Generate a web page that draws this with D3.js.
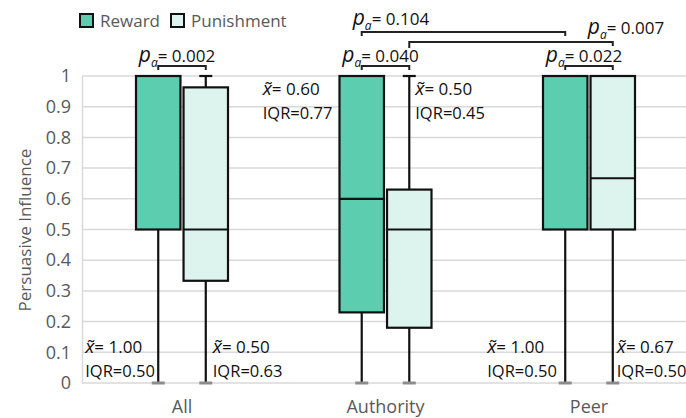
<!DOCTYPE html>
<html>
<head>
<meta charset="utf-8">
<script src="https://cdn.jsdelivr.net/npm/d3@7"></script>
<style>
  html, body { margin: 0; padding: 0; background: #fff; }
  svg { display: block; font-family: "Open Sans", "Noto Sans", sans-serif; }
</style>
</head>
<body>
<svg id="chart" width="686" height="418"></svg>
<script>
// ---- data ----
const categories = ["All", "Authority", "Peer"];
const series = ["Reward", "Punishment"];
const yTicks = [0, 0.1, 0.2, 0.3, 0.4, 0.5, 0.6, 0.7, 0.8, 0.9, 1];

const rewardMin    = [0, 0, 0];
const rewardQ1     = [0.5, 0.23, 0.5];
const rewardMedian = [1, 0.6, 1];
const rewardQ3     = [1, 1, 1];
const rewardMax    = [1, 1, 1];

const punishmentMin    = [0, 0, 0];
const punishmentQ1     = [0.333, 0.18, 0.5];
const punishmentMedian = [0.5, 0.5, 0.667];
const punishmentQ3     = [0.963, 0.63, 1];
const punishmentMax    = [1, 1, 1];

const rewardMedianLabels     = ["1.00", "0.60", "1.00"];
const rewardIqrLabels        = ["0.50", "0.77", "0.50"];
const punishmentMedianLabels = ["0.50", "0.50", "0.67"];
const punishmentIqrLabels    = ["0.63", "0.45", "0.50"];

const withinP = ["0.002", "0.040", "0.022"];            // Reward vs Punishment per category
const acrossPairs = [
  { from: "Authority", to: "Peer", series: "Reward", p: "0.104" },
  { from: "Authority", to: "Peer", series: "Punishment", p: "0.007" }
];

// ---- layout / style ----
const colors = { Reward: "#5ccdae", Punishment: "#ddf4ee" };
const textGray = "#595959";
const W = 686, H = 418;
const svg = d3.select("#chart");

const y = d3.scaleLinear().domain([0, 1]).range([383, 76]);
const x = d3.scaleBand().domain(categories).range([80.25, 690.75]);
const xs = d3.scaleBand().domain(series).range([-46, 46]).paddingInner(0.065);

const boxes = [];
categories.forEach((c, i) => {
  boxes.push({ cat: c, s: "Reward", i, min: rewardMin[i], q1: rewardQ1[i], med: rewardMedian[i], q3: rewardQ3[i], max: rewardMax[i], mLab: rewardMedianLabels[i], iLab: rewardIqrLabels[i] });
  boxes.push({ cat: c, s: "Punishment", i, min: punishmentMin[i], q1: punishmentQ1[i], med: punishmentMedian[i], q3: punishmentQ3[i], max: punishmentMax[i], mLab: punishmentMedianLabels[i], iLab: punishmentIqrLabels[i] });
});
const cx = d => x(d.cat) + x.bandwidth() / 2 + xs(d.s) + xs.bandwidth() / 2;
const bx = d => x(d.cat) + x.bandwidth() / 2 + xs(d.s);

// gridlines
svg.append("g").selectAll("line").data(yTicks).join("line")
  .attr("x1", 82).attr("x2", W).attr("y1", d => y(d)).attr("y2", d => y(d))
  .attr("stroke", "#d9d9d9").attr("stroke-width", 1.5);

// y axis
const yAxis = svg.append("g").attr("transform", "translate(82,0)")
  .call(d3.axisLeft(y).tickValues(yTicks).tickSize(0).tickPadding(11)
    .tickFormat(d => d === 0 ? "0" : d === 1 ? "1" : d.toFixed(1)));
yAxis.select(".domain").attr("stroke", "#d9d9d9").attr("stroke-width", 1.5);
yAxis.selectAll("text").attr("font-size", 18).attr("fill", textGray)
  .attr("font-family", "'Open Sans', sans-serif");

// x axis
const xAxis = svg.append("g").attr("transform", "translate(0,383)")
  .call(d3.axisBottom(x).tickSize(0).tickPadding(17));
xAxis.select(".domain").remove();
xAxis.selectAll("text").attr("font-size", 18).attr("fill", textGray)
  .attr("font-family", "'Open Sans', sans-serif");

// y title
svg.append("text").attr("transform", "translate(31,230) rotate(-90)")
  .attr("text-anchor", "middle").attr("font-size", 17).attr("fill", textGray)
  .text("Persuasive Influence");

// whiskers
const g = svg.append("g");
g.selectAll(".wlow").data(boxes).join("line")
  .attr("x1", cx).attr("x2", cx).attr("y1", d => y(d.q1)).attr("y2", d => y(d.min))
  .attr("stroke", "#111").attr("stroke-width", 2.2);
g.selectAll(".whigh").data(boxes.filter(d => d.max > d.q3)).join("line")
  .attr("x1", cx).attr("x2", cx).attr("y1", d => y(d.q3)).attr("y2", d => y(d.max))
  .attr("stroke", "#111").attr("stroke-width", 2.2);
g.selectAll(".capTop").data(boxes.filter(d => d.max > d.q3)).join("line")
  .attr("x1", d => cx(d) - 6.5).attr("x2", d => cx(d) + 6.5).attr("y1", d => y(d.max)).attr("y2", d => y(d.max))
  .attr("stroke", "#111").attr("stroke-width", 2.2);
g.selectAll(".capLow").data(boxes).join("line")
  .attr("x1", d => cx(d) - 6.5).attr("x2", d => cx(d) + 6.5).attr("y1", d => y(d.min)).attr("y2", d => y(d.min))
  .attr("stroke", "#8c8c8c").attr("stroke-width", 3);

// boxes
g.selectAll(".box").data(boxes).join("rect")
  .attr("x", bx).attr("width", xs.bandwidth())
  .attr("y", d => y(d.q3)).attr("height", d => y(d.q1) - y(d.q3))
  .attr("fill", d => colors[d.s]).attr("stroke", "#111").attr("stroke-width", 2.2);
g.selectAll(".med").data(boxes).join("line")
  .attr("x1", bx).attr("x2", d => bx(d) + xs.bandwidth())
  .attr("y1", d => y(d.med)).attr("y2", d => y(d.med))
  .attr("stroke", "#111").attr("stroke-width", 2.2);

// median / IQR annotations
const annOffset = { "All-Reward": -73, "All-Punishment": 7, "Authority-Reward": -99, "Authority-Punishment": 6, "Peer-Reward": -78, "Peer-Punishment": 4 };
const annTop = { "Authority": true };
boxes.forEach(d => {
  const key = d.cat + "-" + d.s;
  const x0 = cx(d) + annOffset[key];
  const b1 = annTop[d.cat] ? 95 : 353;
  const t1 = svg.append("text").attr("x", x0).attr("y", b1).attr("font-size", 17).attr("fill", "#111");
  t1.append("tspan").attr("font-style", "italic").attr("font-size", 19).text("x\u0303");
  t1.append("tspan").text("= " + d.mLab);
  svg.append("text").attr("x", x0).attr("y", b1 + 24).attr("font-size", 16.5).attr("fill", "#111")
    .text("IQR=" + d.iLab);
});

// p-value label helper
function pLabel(xPos, yBase, anchor, value) {
  const t = svg.append("text").attr("x", xPos).attr("y", yBase).attr("font-size", 17)
    .attr("fill", "#111").attr("text-anchor", anchor);
  t.append("tspan").attr("font-style", "italic").attr("font-size", 21).text("p");
  t.append("tspan").attr("font-style", "italic").attr("font-size", 12).attr("dy", 5).text("a");
  t.append("tspan").attr("dy", -5).text("= " + value);
}
function bracket(x1, x2, yb, tick1, tick2) {
  svg.append("path")
    .attr("d", `M${x1},${yb + tick1}V${yb}H${x2}V${yb + tick2}`)
    .attr("fill", "none").attr("stroke", "#222").attr("stroke-width", 2);
}
const center = (cat, s) => x(cat) + x.bandwidth() / 2 + xs(s) + xs.bandwidth() / 2;

// within-category brackets
categories.forEach((c, i) => {
  const x1 = center(c, "Reward"), x2 = center(c, "Punishment");
  bracket(x1, x2, 66, 4, 4);
  pLabel((x1 + x2) / 2 - 5, 62, "middle", withinP[i]);
});

// across-category brackets
const acrossLayout = [
  { yb: 32, t1: 4, t2: 4, tx: -9, ty: 25, from: "start" },
  { yb: 42, t1: 6, t2: 4, tx: -25, ty: 34, from: "end" }
];
acrossPairs.forEach((p, k) => {
  const L = acrossLayout[k];
  const x1 = center(p.from, p.series), x2 = center(p.to, p.series);
  bracket(x1, x2, L.yb, L.t1, L.t2);
  pLabel((L.from === "start" ? x1 : x2) + L.tx, L.ty, "start", p.p);
});

// legend
const leg = svg.append("g");
const legX = [80, 171];
series.forEach((s, i) => {
  leg.append("rect").attr("x", legX[i]).attr("y", 14).attr("width", 13).attr("height", 13)
    .attr("fill", colors[s]).attr("stroke", "#111").attr("stroke-width", 2);
  leg.append("text").attr("x", legX[i] + 20).attr("y", 27).attr("font-size", 17)
    .attr("fill", textGray).text(s);
});
</script>
</body>
</html>
